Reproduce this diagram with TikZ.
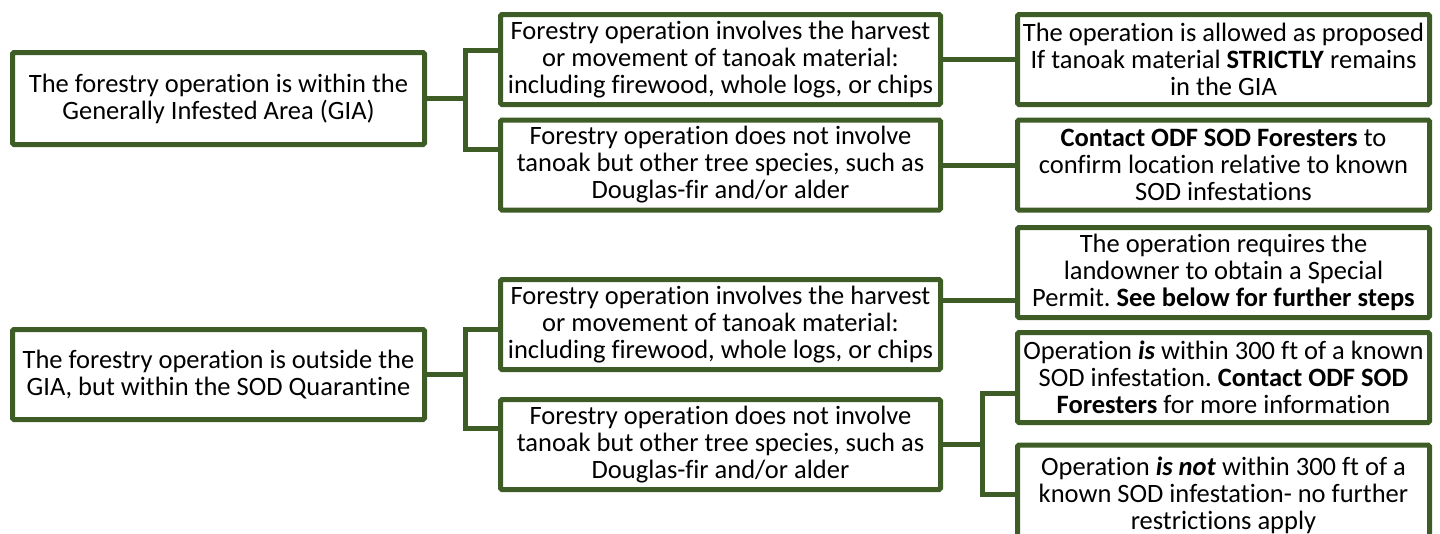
\documentclass[tikz,border=0pt]{standalone}
\usepackage{fontspec}
\setmainfont{Carlito}[Ligatures={NoCommon}]
\usetikzlibrary{positioning}
\definecolor{sodgreen}{RGB}{62,92,37}
\frenchspacing

\begin{document}
\begin{tikzpicture}[x=1pt, y=-1pt,
    node distance = 0mm and 72pt,% for distance between columns
       box/.style = {draw=sodgreen, line width=5pt, rounded corners=1.5pt,
                     align=center, minimum height=90pt, inner sep=1pt,
                     font=\fontsize{26.5}{27}\selectfont},% nodes style
      rootbox/.style = {box, minimum width=412pt},
       midbox/.style = {box, minimum width=440pt},
       endbox/.style = {box, minimum width=412pt},
         link/.style = {draw=sodgreen, line width=5pt}
    ]
    \clip (0,0) rectangle (1440,533);
    % first level
    \node (gia) [rootbox, minimum height=92pt] at (218.5,98.5)
        {The forestry operation is within the\\ Generally Infested Area (GIA)};
    \node (quar) [rootbox] at (218.5,374.5)
        {The forestry operation is outside the\\ GIA, but within the SOD Quarantine};
    % second level
    \node (giatan) [midbox] at (720.5,59.5)
        {Forestry operation involves the harvest\\ or movement of tanoak material:\\ including firewood, whole logs, or chips};
    \node (giaoth) [midbox] at (720.5,165)
        {Forestry operation does not involve\\ tanoak but other tree species, such as\\ Douglas-fir and/or alder};
    \node (quartan) [midbox] at (720.5,324.5)
        {Forestry operation involves the harvest\\ or movement of tanoak material:\\ including firewood, whole logs, or chips};
    \node (quaroth) [midbox] at (720.5,444.5)
        {Forestry operation does not involve\\ tanoak but other tree species, such as\\ Douglas-fir and/or alder};
    % third level
    \node (allowed) [endbox, right=of giatan]
        {The operation is allowed as proposed\\ If tanoak material \textbf{STRICTLY} remains\\ in the GIA};
    \node (contact) [endbox, right=of giaoth]
        {\textbf{Contact ODF SOD Foresters} to\\ confirm location relative to known\\ SOD infestations};
    \node (permit) [endbox] at (1223.5,272.5)
        {The operation requires the\\ landowner to obtain a Special\\ Permit. \textbf{See below for further steps}};
    \node (near) [endbox] at (1223.5,377.5)
        {Operation \textbf{\textit{is}} within 300 ft of a known\\ SOD infestation. \textbf{Contact ODF SOD}\\ \textbf{Foresters} for more information};
    \node (far) [endbox, minimum height=100pt, anchor=north] at (1223.5,442.5)
        {Operation \textbf{\textit{is not}} within 300 ft of a\\ known SOD infestation- no further\\ restrictions apply};
    % connectors
    \draw[link] (gia.east) -- ++(38,0) coordinate (jgia);
    \draw[link] ([yshift=-38.5pt]giatan.north west) -| (jgia)
                |- ([yshift=63.5pt]giaoth.south west);
    \draw[link] (quar.east) -- ++(38,0) coordinate (jquar);
    \draw[link] ([yshift=-52.5pt]quartan.north west) -| (jquar)
                |- ([yshift=64pt]quaroth.south west);
    \draw[link] (giatan.east) -- (allowed.west);
    \draw[link] (giaoth.east) -- (giaoth.east -| contact.west);
    \draw[link] ([yshift=-23pt]quartan.north east) -- ([yshift=-23pt]quartan.north east -| permit.west);
    \draw[link] (quaroth.east) -- ++(39,0) coordinate (jsod);
    \draw[link] ([yshift=-63pt]near.north west) -| (jsod)
                |- ([yshift=-52pt]far.north west);
\end{tikzpicture}
\end{document}
